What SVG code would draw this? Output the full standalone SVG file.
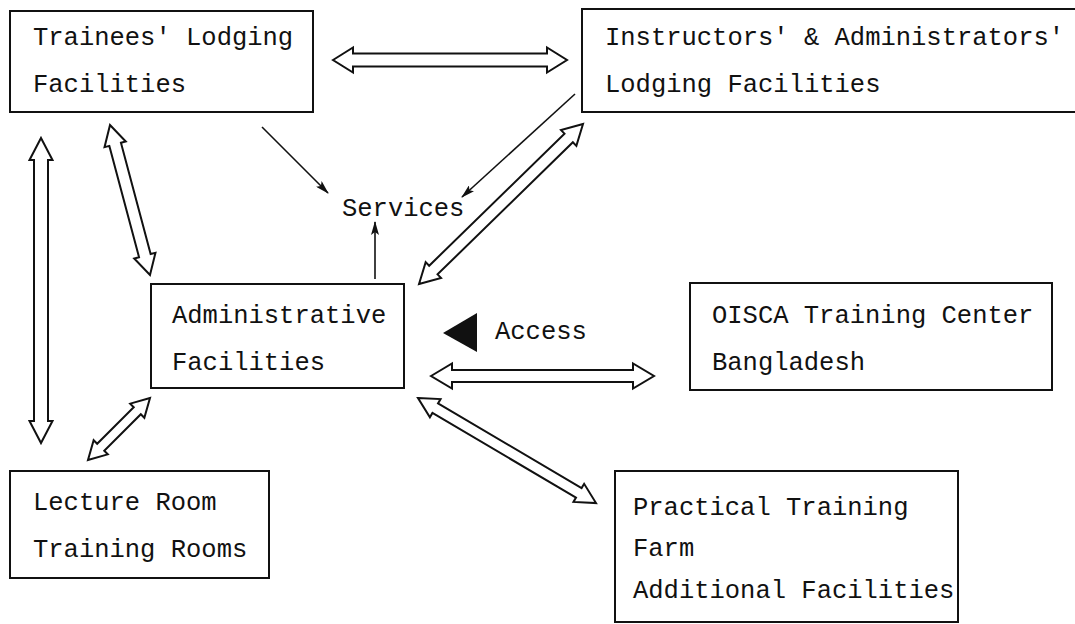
<svg xmlns="http://www.w3.org/2000/svg" width="1075" height="624" viewBox="0 0 1075 624">
  <style>
    .box { fill: #fff; stroke: #111; stroke-width: 2; }
    .lbl { font-family: "Liberation Mono", "DejaVu Sans Mono", monospace; font-size: 25.5px; fill: #111; }
    .dbl { fill: #fff; stroke: #111; stroke-width: 2; stroke-linejoin: miter; }
    .thin { fill: none; stroke: #111; stroke-width: 1.6; marker-end: url(#tip); }
  </style>
  <defs>
    <marker id="tip" viewBox="0 0 14 8" refX="13" refY="4" markerWidth="14" markerHeight="8" markerUnits="userSpaceOnUse" orient="auto">
      <path d="M0,0 L14,4 L0,8 L3,4 Z" fill="#111"/>
    </marker>
  </defs>
  <rect width="1075" height="624" fill="#fff"/>

  <!-- connectors: hollow double-headed block arrows drawn along local x axis -->
  <g id="connectors">
    <!-- Trainees <-> Instructors -->
    <polygon class="dbl" transform="translate(333,60)" points="0,0 20,-12.5 20,-6.5 214,-6.5 214,-12.5 234,0 214,12.5 214,6.5 20,6.5 20,12.5"/>
    <!-- Trainees <-> Administrative -->
    <polygon class="dbl" transform="translate(110,125) rotate(75.07)" points="0,0 20,-11 20,-6 135.2,-6 135.2,-11 155.2,0 135.2,11 135.2,6 20,6 20,11"/>
    <!-- Trainees <-> Lecture Room -->
    <polygon class="dbl" transform="translate(41,138) rotate(90)" points="0,0 22,-11.5 22,-7 283,-7 283,-11.5 305,0 283,11.5 283,7 22,7 22,11.5"/>
    <!-- Administrative <-> Lecture Room -->
    <polygon class="dbl" transform="translate(150,398) rotate(135)" points="0,0 18,-10 18,-5 69.7,-5 69.7,-10 87.7,0 69.7,10 69.7,5 18,5 18,10"/>
    <!-- Instructors <-> Administrative -->
    <polygon class="dbl" transform="translate(583,124) rotate(135.7)" points="0,0 20,-11 20,-6 209.1,-6 209.1,-11 229.1,0 209.1,11 209.1,6 20,6 20,11"/>
    <!-- Administrative <-> OISCA -->
    <polygon class="dbl" transform="translate(431,376)" points="0,0 21,-12.5 21,-6 202,-6 202,-12.5 223,0 202,12.5 202,6 21,6 21,12.5"/>
    <!-- Administrative <-> Practical Training -->
    <polygon class="dbl" transform="translate(418,398) rotate(30.54)" points="0,0 20,-10.5 20,-5.5 186.7,-5.5 186.7,-10.5 206.7,0 186.7,10.5 186.7,5.5 20,5.5 20,10.5"/>

    <!-- thin arrows into Services -->
    <line class="thin" x1="262" y1="127" x2="328" y2="193"/>
    <line class="thin" x1="575" y1="94" x2="462" y2="197"/>
    <line class="thin" x1="375" y1="279" x2="375" y2="222"/>

    <!-- access marker -->
    <polygon points="443,333 477,313 477,352" fill="#111"/>
  </g>

  <g id="trainees">
    <rect class="box" x="10" y="11" width="303" height="101"/>
    <text class="lbl" x="33" y="45">Trainees' Lodging</text>
    <text class="lbl" x="33" y="92">Facilities</text>
  </g>

  <g id="instructors">
    <rect class="box" x="582" y="9" width="500" height="103"/>
    <text class="lbl" x="605" y="45">Instructors' &amp; Administrators'</text>
    <text class="lbl" x="605" y="92">Lodging Facilities</text>
  </g>

  <g id="services">
    <text class="lbl" x="342" y="216">Services</text>
  </g>

  <g id="administrative">
    <rect class="box" x="151" y="284" width="253" height="104"/>
    <text class="lbl" x="172" y="323">Administrative</text>
    <text class="lbl" x="172" y="370">Facilities</text>
  </g>

  <g id="access">
    <text class="lbl" x="495" y="339">Access</text>
  </g>

  <g id="oisca">
    <rect class="box" x="690" y="283" width="362" height="107"/>
    <text class="lbl" x="712" y="323">OISCA Training Center</text>
    <text class="lbl" x="712" y="370">Bangladesh</text>
  </g>

  <g id="lecture">
    <rect class="box" x="10" y="471" width="259" height="107"/>
    <text class="lbl" x="33" y="510">Lecture Room</text>
    <text class="lbl" x="33" y="557">Training Rooms</text>
  </g>

  <g id="practical">
    <rect class="box" x="615" y="471" width="343" height="151"/>
    <text class="lbl" x="633" y="515">Practical Training</text>
    <text class="lbl" x="633" y="556">Farm</text>
    <text class="lbl" x="633" y="598">Additional Facilities</text>
  </g>
</svg>
